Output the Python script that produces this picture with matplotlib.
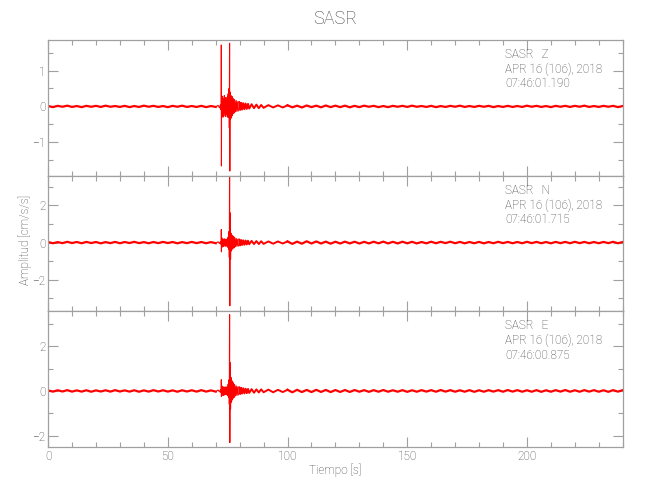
import matplotlib.pyplot as plt
import matplotlib.ticker as mticker
import numpy as np

# station / component info
station = "SASR"
components = ["Z", "N", "E"]
date_txt = "APR 16 (106), 2018"
start_times = ["07:46:01.190", "07:46:01.715", "07:46:00.875"]

# sample times of the event part (s)
event_t = [70.0, 71.0, 71.6, 72.0, 72.3, 72.35, 72.4, 72.45, 72.6, 72.8, 73.0,
           73.2, 73.4, 73.6, 73.8, 74.0, 74.2, 74.4, 74.6, 74.8, 75.0,
           75.2, 75.4, 75.6, 75.7, 75.8, 75.9, 76.0, 76.2, 76.4, 76.6,
           76.8, 77.0, 77.2, 77.4, 77.6, 77.8, 78.0, 78.3, 78.6, 78.9,
           79.2, 79.5, 79.8, 80.2, 80.6, 81.0, 81.5, 82.0, 82.5, 83.0,
           83.5, 84.0, 85.0, 86.0, 87.0, 88.0, 89.0, 90.0, 92.0, 94.0,
           96.0, 98.0, 100.0]

# Z component (cm/s/s)
z_pre = [0.01, -0.02, 0.015, -0.01, 0.02, -0.015, 0.01, -0.02, 0.015, -0.01, 0.015, -0.015,
         0.02, -0.01, 0.01, -0.015, 0.015, -0.02, 0.01, -0.015, 0.02, -0.01, 0.015, -0.015,
         0.01, -0.02, 0.015, -0.01, 0.02, -0.015, 0.01, -0.015, 0.015, -0.02, 0.01, -0.015]
z_event = [-0.015, 0.03, -0.04, 0.05, -0.1, 1.71, -1.66, 0.3, -0.25, 0.28, -0.3,
           0.22, -0.27, 0.3, -0.2, 0.25, -0.28, 0.2, -0.22, 0.26, -0.3,
           0.35, -0.3, 0.5, -0.6, 1.76, -1.8, 0.4, -0.35, 0.3, -0.32,
           0.28, -0.25, 0.22, -0.2, 0.2, -0.18, 0.17, -0.15, 0.16, -0.14,
           0.13, -0.12, 0.12, -0.1, 0.1, -0.09, 0.09, -0.08, 0.08, -0.07,
           0.07, -0.06, 0.06, -0.05, 0.05, -0.05, 0.04, -0.04, 0.035, -0.03,
           0.03, -0.03, 0.03]
z_post = [0.03, -0.025, 0.02, -0.03, 0.025, -0.02, 0.02, -0.025, 0.025, -0.02, 0.02, -0.02,
          0.02, -0.025, 0.015, -0.02, 0.02, -0.01, 0.015, -0.02, 0.01, -0.02, 0.015, -0.01,
          0.015, -0.015, 0.02, -0.01, 0.01, -0.015, 0.015, -0.02, 0.01, -0.015, 0.015, -0.01,
          0.02, -0.015, 0.01, -0.015, 0.015, -0.01, 0.015, -0.02, 0.01, -0.015, 0.015, -0.015,
          0.01, -0.015, 0.02, -0.01, 0.015, -0.015, 0.01, -0.02, 0.015, -0.01, 0.015, -0.015,
          0.015, -0.01, 0.02, -0.015, 0.01, -0.015, 0.015, -0.01, 0.015, -0.02, 0.01]

# N component
n_pre = [0.03, -0.035, 0.025, -0.03, 0.04, -0.025, 0.03, -0.035, 0.035, -0.025, 0.03, -0.04,
         0.025, -0.03, 0.035, -0.035, 0.03, -0.025, 0.04, -0.03, 0.025, -0.035, 0.03, -0.03,
         0.035, -0.025, 0.03, -0.04, 0.025, -0.03, 0.035, -0.03, 0.03, -0.035, 0.025, -0.035]
n_event = [-0.035, 0.04, -0.05, 0.06, -0.1, 0.7, -0.5, 0.3, -0.25, 0.2, -0.22,
           0.18, -0.2, 0.2, -0.15, 0.18, -0.2, 0.15, -0.18, 0.2, -0.25,
           0.3, -0.35, 0.6, -0.8, 3.7, -3.4, 1.6, -0.9, 0.5, -0.45,
           0.4, -0.35, 0.35, -0.3, 0.3, -0.28, 0.25, -0.22, 0.22, -0.2,
           0.18, -0.18, 0.16, -0.15, 0.14, -0.13, 0.12, -0.12, 0.11, -0.1,
           0.1, -0.09, 0.09, -0.08, 0.08, -0.08, 0.07, -0.07, 0.06, -0.06,
           0.06, -0.05, 0.06]
n_post = [0.06, -0.07, 0.05, -0.06, 0.07, -0.05, 0.06, -0.05, 0.05, -0.06, 0.045, -0.05,
          0.05, -0.045, 0.045, -0.05, 0.04, -0.045, 0.045, -0.04, 0.05, -0.045, 0.04, -0.045,
          0.045, -0.04, 0.04, -0.045, 0.03, -0.04, 0.045, -0.035, 0.04, -0.03, 0.045, -0.035,
          0.035, -0.04, 0.03, -0.035, 0.035, -0.04, 0.03, -0.035, 0.04, -0.03, 0.035, -0.035,
          0.03, -0.035, 0.04, -0.03, 0.035, -0.035, 0.03, -0.04, 0.035, -0.03, 0.035, -0.035,
          0.04, -0.03, 0.035, -0.035, 0.03, -0.035, 0.035, -0.03, 0.04, -0.035, 0.03]

# E component
e_pre = [0.025, -0.03, 0.03, -0.025, 0.035, -0.03, 0.025, -0.03, 0.03, -0.035, 0.025, -0.025,
         0.03, -0.03, 0.035, -0.025, 0.025, -0.03, 0.03, -0.035, 0.025, -0.03, 0.035, -0.025,
         0.03, -0.03, 0.025, -0.035, 0.03, -0.025, 0.03, -0.03, 0.035, -0.03, 0.025, -0.03]
e_event = [-0.03, 0.04, -0.04, 0.05, -0.08, 0.5, -0.25, 0.25, -0.2, 0.2, -0.18,
           0.18, -0.2, 0.16, -0.15, 0.18, -0.16, 0.15, -0.17, 0.2, -0.22,
           0.3, -0.3, 0.5, -0.6, 3.4, -2.3, 1.26, -0.8, 0.6, -0.5,
           0.45, -0.4, 0.38, -0.32, 0.3, -0.28, 0.26, -0.22, 0.22, -0.2,
           0.18, -0.17, 0.16, -0.14, 0.14, -0.12, 0.12, -0.11, 0.1, -0.1,
           0.09, -0.09, 0.08, -0.08, 0.07, -0.07, 0.07, -0.06, 0.06, -0.06,
           0.05, -0.05, 0.05]
e_post = [0.05, -0.06, 0.05, -0.05, 0.045, -0.05, 0.05, -0.045, 0.045, -0.05, 0.04, -0.045,
          0.04, -0.045, 0.04, -0.035, 0.035, -0.04, 0.035, -0.035, 0.04, -0.035, 0.03, -0.035,
          0.035, -0.04, 0.03, -0.035, 0.035, -0.03, 0.035, -0.035, 0.04, -0.03, 0.035, -0.035,
          0.03, -0.035, 0.035, -0.04, 0.03, -0.035, 0.035, -0.03, 0.035, -0.035, 0.04, -0.03,
          0.035, -0.035, 0.03, -0.035, 0.035, -0.04, 0.03, -0.035, 0.035, -0.03, 0.04, -0.035,
          0.03, -0.035, 0.035, -0.03, 0.035, -0.035, 0.03, -0.04, 0.035, -0.03, 0.035]

traces = [(z_pre, z_event, z_post), (n_pre, n_event, n_post), (e_pre, e_event, e_post)]
ylims = [(-1.93, 1.85), (-3.7, 3.6), (-2.5, 3.55)]
ymajor = [1, 2, 2]
yminor = [0.5, 1, 1]

plt.rcParams['font.family'] = ['Roboto', 'DejaVu Sans']
plt.rcParams['font.weight'] = 'light'
gray = '#a0a0a0'
txt = '#444444'

fig, axes = plt.subplots(3, 1, sharex=True, figsize=(6.5, 5), dpi=100)
fig.subplots_adjust(left=0.074, right=0.958, top=0.92, bottom=0.106, hspace=0)

et = np.array(event_t)
tail = et >= 79.8
for i, ax in enumerate(axes):
    pre, ev, post = traces[i]
    ev = np.array(ev)
    # quiet parts as a thicker band, strong motion as thin line
    ax.plot(np.arange(len(pre)) * 2.0, pre, color='red', linewidth=1.6)
    ax.plot(100 + np.arange(len(post)) * 2.0, post, color='red', linewidth=1.6)
    ax.plot(et[~tail], ev[~tail], color='red', linewidth=0.8)
    ax.plot(et[tail], ev[tail], color='red', linewidth=1.4)

    ax.set_xlim(0, 240)
    ax.set_ylim(*ylims[i])
    ax.xaxis.set_major_locator(mticker.MultipleLocator(50))
    ax.xaxis.set_minor_locator(mticker.MultipleLocator(10))
    ax.yaxis.set_major_locator(mticker.MultipleLocator(ymajor[i]))
    ax.yaxis.set_minor_locator(mticker.MultipleLocator(yminor[i]))
    ax.tick_params(which='both', direction='in', top=True, right=True,
                   color=gray, labelcolor=txt, labelsize=8.5, width=0.8, pad=2)
    ax.tick_params(which='major', length=7)
    ax.tick_params(which='minor', length=3.5)
    for s in ax.spines.values():
        s.set_color(gray)
        s.set_linewidth(0.9)

    ax.text(0.795, 0.94, f"{station}   {components[i]}\n{date_txt}\n{start_times[i]}",
            transform=ax.transAxes, ha='left', va='top', fontsize=8.5,
            color=txt, linespacing=1.15)

fig.text(0.516, 0.962, station, ha='center', va='center', fontsize=13, color=txt)
fig.text(0.516, 0.06, "Tiempo [s]", ha='center', va='center', fontsize=8.5, color=txt)
fig.text(0.038, 0.52, "Amplitud [cm/s/s]", ha='center', va='center', rotation=90,
         fontsize=8.5, color=txt)

fig.savefig("out.png", dpi=100)
